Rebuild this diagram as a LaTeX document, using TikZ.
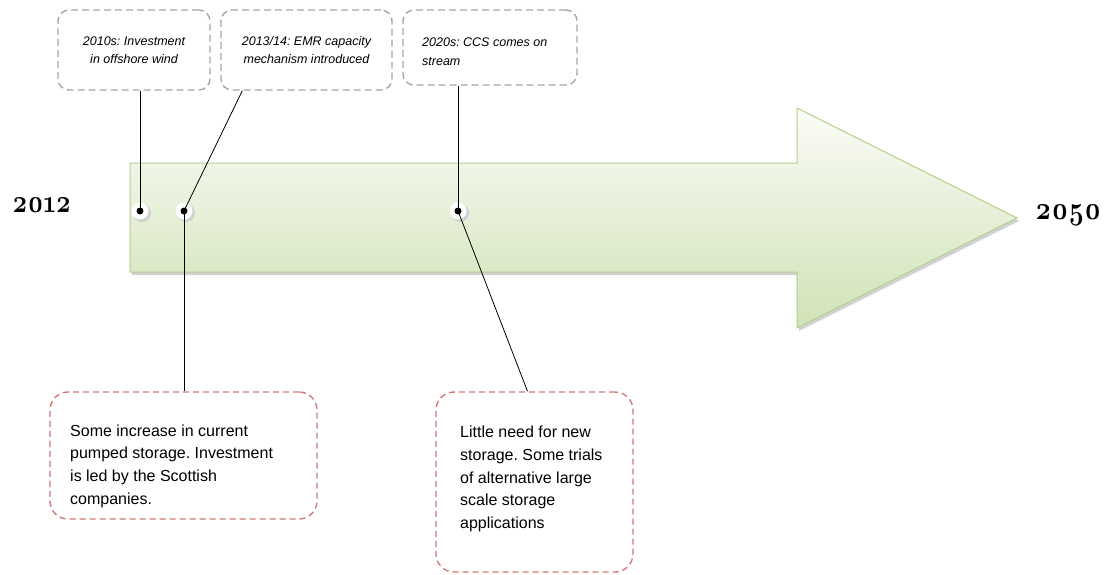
\documentclass[tikz,border=0pt]{standalone}
\usepackage{fontspec}
\newfontfamily\boxfont{Liberation Sans}
\newfontfamily\yearfont[Numbers=OldStyle]{Latin Modern Roman}
\usetikzlibrary{calc}
\definecolor{arrowtop}{HTML}{FBFCF7}
\definecolor{arrowbot}{HTML}{D0E2B6}
\definecolor{arrowedge}{HTML}{B3CF8E}
\definecolor{graydash}{HTML}{A6A6A6}
\definecolor{reddash}{HTML}{D07878}
\frenchspacing
\begin{document}
\begin{tikzpicture}[x=1pt,y=-1pt,
 topbox/.style={draw=graydash, line width=1.4pt, dash pattern=on 7pt off 4pt, rounded corners=11pt, inner ysep=0pt, font=\boxfont\itshape\fontsize{12.5}{18.5}\selectfont},
 toptext/.style={inner sep=0pt, font=\boxfont\itshape\fontsize{12.5}{18.5}\selectfont},
 botbox/.style={draw=reddash, line width=1.4pt, dash pattern=on 6pt off 4pt, rounded corners=18pt, inner sep=0pt},
 bottext/.style={inner sep=0pt, align=left, font=\boxfont\fontsize{16}{22.6}\selectfont},
 halo/.style={circle, fill=white, minimum size=17pt, inner sep=0pt},
 pin/.style={circle, fill=black, minimum size=7pt, inner sep=0pt},
 leader/.style={draw=black, line width=0.8pt},
 year/.style={font=\yearfont\bfseries\fontsize{25}{25}\selectfont, inner sep=0pt}]
\useasboundingbox[fill=white] (0,0) rectangle (1108,574);
% arrow
\fill[gray!35] (132,166) -- (799,166) -- (799,111) -- (1019,221) -- (799,331) -- (799,275) -- (132,275) -- cycle;
\draw[arrowedge, line width=1pt, top color=arrowtop, bottom color=arrowbot] (130,163) -- (797,163) -- (797,108) -- (1017,218) -- (797,328) -- (797,272) -- (130,272) -- cycle;
% years
\node[year, anchor=west] (y1) at (12,205) {\scalebox{1}[1.3]{2012}};
\node[year, anchor=west] (y2) at (1035,215) {\scalebox{1.05}[1.3]{2050}};
% top boxes
\node[topbox, minimum width=152pt, minimum height=80pt, align=center] (b1) at (134,50) {2010s: Investment\\in offshore wind};
\node[topbox, minimum width=171pt, minimum height=80pt, align=center] (b2) at (306.5,50) {2013/14: EMR capacity\\mechanism introduced};
\node[topbox, minimum width=174pt, minimum height=75pt] (b3) at (490,47.5) {};
\node[toptext, anchor=west, align=left] (t3) at (422,51.5) {2020s: CCS comes on\\stream};
% bottom boxes
\node[botbox, minimum width=267pt, minimum height=127pt] (b4) at (183.5,455.5) {};
\node[bottext, anchor=west] (t4) at (70,466) {Some increase in current\\pumped storage. Investment\\is led by the Scottish\\companies.};
\node[botbox, minimum width=197pt, minimum height=180pt] (b5) at (534.5,482) {};
\node[bottext, anchor=west] (t5) at (460,479) {Little need for new\\storage. Some trials\\of alternative large\\scale storage\\applications};
% dot halos
\foreach \n/\x in {d1/140,d2/184,d3/458}{
  \fill[gray!35] (\x+2,213) circle (9pt);
  \node[halo] (\n) at (\x,211) {};
}
% leaders
\draw[leader] (d1.center) -- (d1.center |- b1.south);
\draw[leader] (d2.center) -- ($(b2.south west)+(22,0)$);
\draw[leader] (d2.center) -- (d2.center |- b4.north);
\draw[leader] (d3.center) -- (d3.center |- b3.south);
\draw[leader] (d3.center) -- ($(b5.north)+(-7,0)$);
% pins
\node[pin] (p1) at (d1) {};
\node[pin] (p2) at (d2) {};
\node[pin] (p3) at (d3) {};
\end{tikzpicture}
\end{document}
